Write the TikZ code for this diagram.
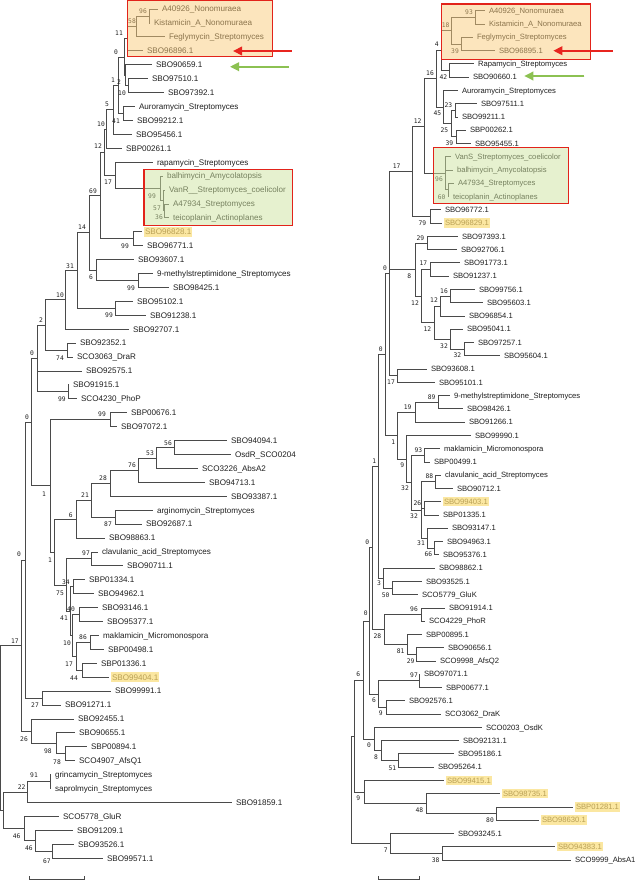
\documentclass[tikz,border=0pt]{standalone}
\usepackage{fontspec}
\setmainfont{Liberation Sans}
\newfontfamily\bsfont{DejaVu Sans Mono}
\usetikzlibrary{calc,arrows.meta}
\definecolor{ln}{HTML}{4A4A4A}
\definecolor{tx}{HTML}{1E1E1E}
\definecolor{hlfill}{HTML}{FBE7A1}
\definecolor{hltext}{HTML}{B9A055}
\definecolor{boxred}{HTML}{E2231A}
\definecolor{boxor}{HTML}{F9CB7B}
\definecolor{boxgr}{HTML}{CDE39F}
\definecolor{arred}{HTML}{E8251F}
\definecolor{argr}{HTML}{8CC152}
\tikzset{
 br/.style={draw=ln, line width=0.7pt},
 leafL/.style={anchor=west, inner xsep=0pt, inner ysep=0pt, outer xsep=4pt, outer ysep=0pt, text height=5.8pt, text depth=0pt, font=\fontsize{8.1}{9}\selectfont, text=tx},
 leafR/.style={leafL, text height=5.5pt, font=\fontsize{7.65}{9}\selectfont},
 hl/.style={fill=hlfill, text=hltext, inner xsep=1pt, inner ysep=2pt, outer xsep=2pt},
 bsl/.style={inner sep=0pt, font=\bsfont\fontsize{6.3}{7}\selectfont, text=tx, text height=4.6pt, text depth=0pt},
 boxst/.style={draw=boxred, line width=1.2pt, fill opacity=0.5},
 arrowst/.style={line width=2pt, -{Triangle[length=9pt,width=8.5pt]}},
}
\newcommand\Tinn[4]{\path let \p1=(#3), \p2=(#4) in ({#2pt},{(\y1+\y2)/2}) coordinate (#1);}
\newcommand\Tnd[4]{\Tinn{#1}{#2}{#3}{#4}\draw[br] (#1) |- (#3); \draw[br] (#1) |- (#4);}
\newcommand\Tndt[5]{\Tinn{#1}{#2}{#3}{#5}\draw[br] (#1) |- (#3); \draw[br] (#1) |- (#4); \draw[br] (#1) |- (#5);}
\newcommand\TlL[3]{\node[leafL] (L#1) at ({#2-4},{9+13.92*#1}) {#3};}
\newcommand\ThL[3]{\node[leafL,hl] (L#1) at ({#2-3},{9+13.92*#1}) {#3};}
\newcommand\TlR[3]{\node[leafR] (R#1) at ({#2-4},{10.7+13.27*#1}) {#3};}
\newcommand\ThR[3]{\node[leafR,hl] (R#1) at ({#2-3},{10.7+13.27*#1}) {#3};}
\newcommand\Tbv[4]{\node[bsl] (#1) at (#2,#3) {#4};}
\begin{document}
\begin{tikzpicture}[x=1pt,y=-1pt]
\useasboundingbox (0,0) rectangle (635,881);
% ---------------- LEFT TREE leaves
\TlL{0}{162}{A40926\_Nonomuraea}
\TlL{1}{154}{Kistamicin\_A\_Nonomuraea}
\TlL{2}{169}{Feglymycin\_Streptomyces}
\TlL{3}{147}{SBO96896.1}
\TlL{4}{156}{SBO90659.1}
\TlL{5}{152}{SBO97510.1}
\TlL{6}{168}{SBO97392.1}
\TlL{7}{139}{Auroramycin\_Streptomyces}
\TlL{8}{137}{SBO99212.1}
\TlL{9}{136}{SBO95456.1}
\TlL{10}{126}{SBP00261.1}
\TlL{11}{157}{rapamycin\_Streptomyces}
\TlL{12}{167}{balhimycin\_Amycolatopsis}
\TlL{13}{169}{VanR\_\_Streptomyces\_coelicolor}
\TlL{14}{173}{A47934\_Streptomyces}
\TlL{15}{173}{teicoplanin\_Actinoplanes}
\ThL{16}{145}{SBO96828.1}
\TlL{17}{147}{SBO96771.1}
\TlL{18}{138}{SBO93607.1}
\TlL{19}{157}{9-methylstreptimidone\_Streptomyces}
\TlL{20}{173}{SBO98425.1}
\TlL{21}{137}{SBO95102.1}
\TlL{22}{150}{SBO91238.1}
\TlL{23}{133}{SBO92707.1}
\TlL{24}{80}{SBO92352.1}
\TlL{25}{77}{SCO3063\_DraR}
\TlL{26}{86}{SBO92575.1}
\TlL{27}{73}{SBO91915.1}
\TlL{28}{81}{SCO4230\_PhoP}
\TlL{29}{131}{SBP00676.1}
\TlL{30}{121}{SBO97072.1}
\TlL{31}{231}{SBO94094.1}
\TlL{32}{235}{OsdR\_SCO0204}
\TlL{33}{202}{SCO3226\_AbsA2}
\TlL{34}{209}{SBO94713.1}
\TlL{35}{231}{SBO93387.1}
\TlL{36}{157}{arginomycin\_Streptomyces}
\TlL{37}{146}{SBO92687.1}
\TlL{38}{109}{SBO98863.1}
\TlL{39}{102}{clavulanic\_acid\_Streptomyces}
\TlL{40}{127}{SBO90711.1}
\TlL{41}{89}{SBP01334.1}
\TlL{42}{98}{SBO94962.1}
\TlL{43}{102}{SBO93146.1}
\TlL{44}{107}{SBO95377.1}
\TlL{45}{103}{maklamicin\_Micromonospora}
\TlL{46}{108}{SBP00498.1}
\TlL{47}{101}{SBP01336.1}
\ThL{48}{112}{SBO99404.1}
\TlL{49}{115}{SBO99991.1}
\TlL{50}{65}{SBO91271.1}
\TlL{51}{78}{SBO92455.1}
\TlL{52}{79}{SBO90655.1}
\TlL{53}{91}{SBP00894.1}
\TlL{54}{79}{SCO4907\_AfsQ1}
\TlL{55}{55}{grincamycin\_Streptomyces}
\TlL{56}{55}{saprolmycin\_Streptomyces}
\TlL{57}{236}{SBO91859.1}
\TlL{58}{63}{SCO5778\_GluR}
\TlL{59}{77}{SBO91209.1}
\TlL{60}{78}{SBO93526.1}
\TlL{61}{107}{SBO99571.1}
% ---------------- LEFT TREE internal nodes
\Tnd{a96}{149}{L0}{L1}
\Tnd{a58}{136}{a96}{L2}
\Tnd{a11}{127}{a58}{L3}
\Tnd{a10}{128.7}{L5}{L6}
\Tnd{a2}{125}{L4}{a10}
\Tnd{a0}{124}{a11}{a2}
\Tnd{a41}{123.3}{L7}{L8}
\Tnd{a1}{118.3}{a0}{a41}
\Tnd{a5}{113.3}{a1}{L9}
\Tnd{a10b}{106}{a5}{L10}
\Tnd{a36}{164.5}{L14}{L15}
\Tnd{a57}{163}{L13}{a36}
\Tnd{a99g}{160}{L12}{a57}
\Tnd{a17}{115}{L11}{a99g}
\Tnd{a12}{104.5}{a10b}{a17}
\Tnd{a99b}{133}{L16}{L17}
\Tnd{a69}{100}{a12}{a99b}
\Tnd{a99c}{138}{L19}{L20}
\Tnd{a6}{96}{L18}{a99c}
\Tnd{a14}{89.3}{a69}{a6}
\Tnd{a99d}{115.7}{L21}{L22}
\Tnd{a31}{77.3}{a14}{a99d}
\Tnd{a10c}{65}{a31}{L23}
\Tnd{a74}{67.3}{L24}{L25}
\Tnd{a2b}{45.7}{a10c}{a74}
\Tnd{a99e}{68}{L27}{L28}
\Tndt{a0b}{37.3}{a2b}{L26}{a99e}
\Tnd{a99f}{110}{L29}{L30}
\Tnd{a56}{174.3}{L31}{L32}
\Tnd{a53}{156.7}{a56}{L33}
\Tnd{a76}{138.3}{a53}{L34}
\Tnd{a28}{110}{a76}{L35}
\Tnd{a87}{115.7}{L36}{L37}
\Tnd{a21}{91.7}{a28}{a87}
\Tnd{a6b}{76.7}{a21}{L38}
\Tnd{a97}{91.7}{L39}{L40}
\Tnd{a34}{73.3}{L41}{L42}
\Tnd{a40}{79}{L43}{L44}
\Tnd{a86}{90}{L45}{L46}
\Tnd{a44}{82.7}{L47}{L48}
\Tnd{a17b}{76}{a86}{a44}
\Tnd{a10d}{72.7}{a40}{a17b}
\Tnd{a41b}{70}{a34}{a10d}
\Tnd{a75}{66.7}{a97}{a41b}
\Tnd{a1c}{54.3}{a6b}{a75}
\Tnd{a1b}{50}{a99f}{a1c}
\Tnd{a0c}{31.7}{a0b}{a1b}
\Tnd{a27}{42.3}{L49}{L50}
\Tnd{a0d}{25}{a0c}{a27}
\Tnd{a78}{65.7}{L53}{L54}
\Tnd{a98}{56.7}{L52}{a78}
\Tnd{a26}{31.7}{L51}{a98}
\Tnd{a17c}{21.7}{a0d}{a26}
\Tnd{a91}{50}{L55}{L56}
\Tnd{a22}{27.3}{a91}{L57}
\Tnd{a67}{52.3}{L60}{L61}
\Tnd{a46b}{35.7}{L59}{a67}
\Tnd{a46}{24}{L58}{a46b}
\Tnd{aX}{3.3}{a22}{a46}
\Tnd{aR}{0.8}{a17c}{aX}
% ---------------- LEFT bootstrap values
\Tbv{b1}{143}{11}{96}
\Tbv{b2}{132}{21}{58}
\Tbv{b3}{119}{33}{11}
\Tbv{b4}{116}{52}{0}
\Tbv{b5}{113}{80}{1}
\Tbv{b6}{119}{82}{2}
\Tbv{b7}{122}{93}{10}
\Tbv{b8}{107}{104}{5}
\Tbv{b9}{116}{121}{41}
\Tbv{b10}{101}{124}{10}
\Tbv{b11}{98}{146}{12}
\Tbv{b12}{108}{182}{17}
\Tbv{b13}{93}{191}{69}
\Tbv{b14}{152}{196}{99}
\Tbv{b15}{157}{208}{57}
\Tbv{b16}{159}{217}{36}
\Tbv{b17}{82}{227}{14}
\Tbv{b18}{125}{246}{99}
\Tbv{b19}{70}{266}{31}
\Tbv{b20}{91}{277}{6}
\Tbv{b21}{131}{288}{99}
\Tbv{b22}{60}{295}{10}
\Tbv{b23}{109}{315}{99}
\Tbv{b24}{41}{320}{2}
\Tbv{b25}{32}{353}{0}
\Tbv{b26}{60}{358}{74}
\Tbv{b27}{62}{399}{99}
\Tbv{b28}{102}{414}{99}
\Tbv{b29}{27}{417}{0}
\Tbv{b30}{168}{443}{56}
\Tbv{b31}{150}{453}{53}
\Tbv{b32}{132}{465}{76}
\Tbv{b33}{103}{478}{28}
\Tbv{b34}{44}{494}{1}
\Tbv{b35}{85}{495}{21}
\Tbv{b36}{70.7}{515}{6}
\Tbv{b37}{108}{524}{87}
\Tbv{b38}{86}{553}{97}
\Tbv{b39}{19}{554}{0}
\Tbv{b40}{50}{560}{1}
\Tbv{b41}{66}{582}{34}
\Tbv{b42}{60}{593}{75}
\Tbv{b43}{71}{609}{40}
\Tbv{b44}{64}{618}{41}
\Tbv{b45}{83}{637}{86}
\Tbv{b46}{15}{641}{17}
\Tbv{b47}{67}{643}{10}
\Tbv{b48}{69}{664}{17}
\Tbv{b49}{74}{678}{44}
\Tbv{b50}{35}{705}{27}
\Tbv{b51}{24}{739}{26}
\Tbv{b52}{48}{751}{98}
\Tbv{b53}{57}{762}{78}
\Tbv{b54}{34}{775}{91}
\Tbv{b55}{21.7}{787}{22}
\Tbv{b56}{16.7}{836}{46}
\Tbv{b57}{29}{848}{46}
\Tbv{b58}{47}{861}{67}
% ---------------- RIGHT TREE leaves
\TlR{0}{489}{A40926\_Nonomuraea}
\TlR{1}{489}{Kistamicin\_A\_Nonomuraea}
\TlR{2}{477}{Feglymycin\_Streptomyces}
\TlR{3}{499}{SBO96895.1}
\TlR{4}{478}{Rapamycin\_Streptomyces}
\TlR{5}{473}{SBO90660.1}
\TlR{6}{462}{Auroramycin\_Streptomyces}
\TlR{7}{481}{SBO97511.1}
\TlR{8}{462}{SBO99211.1}
\TlR{9}{470}{SBP00262.1}
\TlR{10}{475}{SBO95455.1}
\TlR{11}{455}{VanS\_Streptomyces\_coelicolor}
\TlR{12}{457}{balhimycin\_Amycolatopsis}
\TlR{13}{458}{A47934\_Streptomyces}
\TlR{14}{453}{teicoplanin\_Actinoplanes}
\TlR{15}{445}{SBO96772.1}
\ThR{16}{445}{SBO96829.1}
\TlR{17}{462}{SBO97393.1}
\TlR{18}{461}{SBO92706.1}
\TlR{19}{464}{SBO91773.1}
\TlR{20}{453}{SBO91237.1}
\TlR{21}{479}{SBO99756.1}
\TlR{22}{487}{SBO95603.1}
\TlR{23}{469}{SBO96854.1}
\TlR{24}{467}{SBO95041.1}
\TlR{25}{478}{SBO97257.1}
\TlR{26}{504}{SBO95604.1}
\TlR{27}{431}{SBO93608.1}
\TlR{28}{439}{SBO95101.1}
\TlR{29}{454}{9-methylstreptimidone\_Streptomyces}
\TlR{30}{467}{SBO98426.1}
\TlR{31}{469}{SBO91266.1}
\TlR{32}{475}{SBO99990.1}
\TlR{33}{444}{maklamicin\_Micromonospora}
\TlR{34}{434}{SBP00499.1}
\TlR{35}{445}{clavulanic\_acid\_Streptomyces}
\TlR{36}{457}{SBO90712.1}
\ThR{37}{444}{SBO99403.1}
\TlR{38}{443}{SBP01335.1}
\TlR{39}{452}{SBO93147.1}
\TlR{40}{447}{SBO94963.1}
\TlR{41}{443}{SBO95376.1}
\TlR{42}{439}{SBO98862.1}
\TlR{43}{426}{SBO93525.1}
\TlR{44}{422}{SCO5779\_GluK}
\TlR{45}{449}{SBO91914.1}
\TlR{46}{429}{SCO4229\_PhoR}
\TlR{47}{426}{SBP00895.1}
\TlR{48}{448}{SBO90656.1}
\TlR{49}{440}{SCO9998\_AfsQ2}
\TlR{50}{424}{SBO97071.1}
\TlR{51}{446}{SBP00677.1}
\TlR{52}{409}{SBO92576.1}
\TlR{53}{445}{SCO3062\_DraK}
\TlR{54}{486}{SCO0203\_OsdK}
\TlR{55}{463}{SBO92131.1}
\TlR{56}{458}{SBO95186.1}
\TlR{57}{438}{SBO95264.1}
\ThR{58}{447}{SBO99415.1}
\ThR{59}{503}{SBO98735.1}
\ThR{60}{576}{SBP01281.1}
\ThR{61}{542}{SBO98630.1}
\TlR{62}{458}{SBO93245.1}
\ThR{63}{558}{SBO94383.1}
\TlR{64}{575}{SCO9999\_AbsA1}
% ---------------- RIGHT TREE internal nodes
\Tnd{r93}{475.7}{R0}{R1}
\Tnd{r39}{461.7}{R2}{R3}
\Tnd{r18}{451.7}{r93}{r39}
\Tnd{r42}{449.3}{R4}{R5}
\Tnd{r4}{441.7}{r18}{r42}
\Tnd{r23}{455}{R7}{R8}
\Tnd{r39b}{456.7}{R9}{R10}
\Tnd{r25}{451.7}{r23}{r39b}
\Tnd{r45}{443.3}{R6}{r25}
\Tnd{r16}{436}{r4}{r45}
\Tnd{r60}{448.3}{R13}{R14}
\Tndt{r96}{445.7}{R11}{R12}{r60}
\Tnd{r12}{424.3}{r16}{r96}
\Tnd{r79}{430}{R15}{R16}
\Tnd{r17}{412.7}{r12}{r79}
\Tnd{r29}{427.7}{R17}{R18}
\Tnd{r17c}{430}{R19}{R20}
\Tnd{r16b}{450}{R21}{R22}
\Tnd{r12a}{440.7}{r16b}{R23}
\Tnd{r32b}{464}{R25}{R26}
\Tnd{r32a}{450}{R24}{r32b}
\Tnd{r12b}{434}{r12a}{r32a}
\Tnd{r12c}{421.7}{r17c}{r12b}
\Tnd{r8}{415}{r29}{r12c}
\Tnd{r17d}{397.3}{R27}{R28}
\Tndt{r0e}{389}{r17}{r8}{r17d}
\Tnd{r89}{438.3}{R29}{R30}
\Tnd{r19}{415}{r89}{R31}
\Tnd{r93b}{424.3}{R33}{R34}
\Tnd{r88}{435.7}{R35}{R36}
\Tnd{r26}{424}{R37}{R38}
\Tnd{r66}{434}{R40}{R41}
\Tnd{r31}{427.7}{R39}{r66}
\Tndt{r32c}{421}{r88}{r26}{r31}
\Tnd{r32d}{411.7}{r93b}{r32c}
\Tnd{r9}{406.7}{R32}{r32d}
\Tnd{r1d}{397.3}{r19}{r9}
\Tnd{r0f}{385}{r0e}{r1d}
\Tnd{r50}{392.7}{R43}{R44}
\Tnd{r3}{383.3}{R42}{r50}
\Tnd{r1e}{378.3}{r0f}{r3}
\Tnd{r96b}{421}{R45}{R46}
\Tnd{r29b}{416.7}{R48}{R49}
\Tnd{r81}{407.3}{R47}{r29b}
\Tnd{r28}{384.3}{r96b}{r81}
\Tnd{r0g}{372}{r1e}{r28}
\Tnd{r97}{419}{R50}{R51}
\Tnd{r9b}{386}{R52}{R53}
\Tnd{r6r}{378.3}{r97}{r9b}
\Tnd{r0h}{369.5}{r0g}{r6r}
\Tnd{r51}{398.3}{R56}{R57}
\Tnd{r8r}{381.7}{R55}{r51}
\Tnd{r0i}{374}{R54}{r8r}
\Tnd{r6z}{363}{r0h}{r0i}
\Tnd{r80}{496.7}{R60}{R61}
\Tnd{r48}{426}{R59}{r80}
\Tnd{r9z}{364}{R58}{r48}
\Tnd{rB}{354.3}{r6z}{r9z}
\Tnd{r38}{442.7}{R63}{R64}
\Tnd{r7}{390.7}{R62}{r38}
\Tnd{rR}{351}{rB}{r7}
% ---------------- RIGHT bootstrap values
\Tbv{c1}{469}{12.3}{93}
\Tbv{c2}{445.7}{25}{18}
\Tbv{c3}{436.7}{44.3}{4}
\Tbv{c4}{455}{50.7}{39}
\Tbv{c5}{430}{73.3}{16}
\Tbv{c6}{443.3}{76.7}{42}
\Tbv{c7}{448.3}{105}{23}
\Tbv{c8}{437.3}{113.3}{45}
\Tbv{c9}{417.7}{120.7}{12}
\Tbv{c10}{444.3}{130}{25}
\Tbv{c11}{449.3}{143.3}{39}
\Tbv{c12}{396.7}{166}{17}
\Tbv{c13}{439}{179.3}{96}
\Tbv{c14}{441.7}{196.7}{60}
\Tbv{c15}{422.3}{223.3}{79}
\Tbv{c16}{420.3}{237.7}{29}
\Tbv{c17}{423.3}{263.3}{17}
\Tbv{c18}{385}{268.3}{0}
\Tbv{c19}{409.3}{276}{8}
\Tbv{c20}{444}{290.7}{16}
\Tbv{c21}{434}{300}{12}
\Tbv{c22}{415}{302.7}{12}
\Tbv{c23}{427.3}{329}{12}
\Tbv{c24}{444}{345.7}{32}
\Tbv{c25}{380.7}{349.3}{0}
\Tbv{c26}{457.3}{355}{32}
\Tbv{c27}{391}{381.7}{17}
\Tbv{c28}{431.7}{396.7}{89}
\Tbv{c29}{407.7}{407.3}{19}
\Tbv{c30}{393.3}{441.7}{1}
\Tbv{c31}{418.3}{450}{93}
\Tbv{c32}{374.3}{461}{1}
\Tbv{c33}{402.3}{465}{9}
\Tbv{c34}{429.3}{475.7}{88}
\Tbv{c35}{405}{488.3}{32}
\Tbv{c36}{417.3}{502.7}{26}
\Tbv{c37}{414}{516}{32}
\Tbv{c38}{367.3}{542.3}{0}
\Tbv{c39}{421}{543.3}{31}
\Tbv{c40}{428.3}{554}{66}
\Tbv{c41}{379}{583.3}{3}
\Tbv{c42}{385.7}{595}{50}
\Tbv{c43}{414}{609}{96}
\Tbv{c44}{365.7}{613.3}{0}
\Tbv{c45}{377.3}{635.7}{28}
\Tbv{c46}{400.7}{650.7}{81}
\Tbv{c47}{410.7}{660.7}{29}
\Tbv{c48}{358.3}{674.3}{6}
\Tbv{c49}{414}{675}{97}
\Tbv{c50}{374}{700}{6}
\Tbv{c51}{380.7}{713.3}{9}
\Tbv{c52}{369}{745}{0}
\Tbv{c53}{376}{756.7}{8}
\Tbv{c54}{392.3}{767.7}{51}
\Tbv{c55}{358.3}{798.3}{9}
\Tbv{c56}{419.3}{810}{48}
\Tbv{c57}{490}{820}{80}
\Tbv{c58}{385.7}{850}{7}
\Tbv{c59}{435.7}{860}{38}
% ---------------- highlight boxes
\draw[boxst, fill=boxor] (127.7,0.8) rectangle (272.7,56.7);
\draw[boxst, fill=boxgr] (144,169.3) rectangle (292.7,225.3);
\draw[boxst, fill=boxor] (441.7,4) rectangle (590.3,59.3);
\draw[boxst, fill=boxgr] (433.3,147.7) rectangle (568.3,203.3);
% ---------------- arrows
\coordinate (raL1) at (291.7,51);
\coordinate (raL2) at (233,51);
\coordinate (gaL1) at (289,66.7);
\coordinate (gaL2) at (230,66.7);
\coordinate (raR1) at (612.7,50.7);
\coordinate (raR2) at (553.3,50.7);
\coordinate (gaR1) at (584.3,76);
\coordinate (gaR2) at (524.3,76);
\draw[arrowst, draw=arred, fill=arred] (raL1) -- (raL2);
\draw[arrowst, draw=argr, fill=argr] (gaL1) -- (gaL2);
\draw[arrowst, draw=arred, fill=arred] (raR1) -- (raR2);
\draw[arrowst, draw=argr, fill=argr] (gaR1) -- (gaR2);
% ---------------- scale bars
\coordinate (sL1) at (29,879);
\coordinate (sL2) at (84,879);
\coordinate (sR1) at (378.3,879);
\coordinate (sR2) at (419.3,879);
\draw[br] ([yshift=3pt]sL1) -- (sL1) -- (sL2) -- ([yshift=3pt]sL2);
\draw[br] ([yshift=3pt]sR1) -- (sR1) -- (sR2) -- ([yshift=3pt]sR2);
\end{tikzpicture}
\end{document}
